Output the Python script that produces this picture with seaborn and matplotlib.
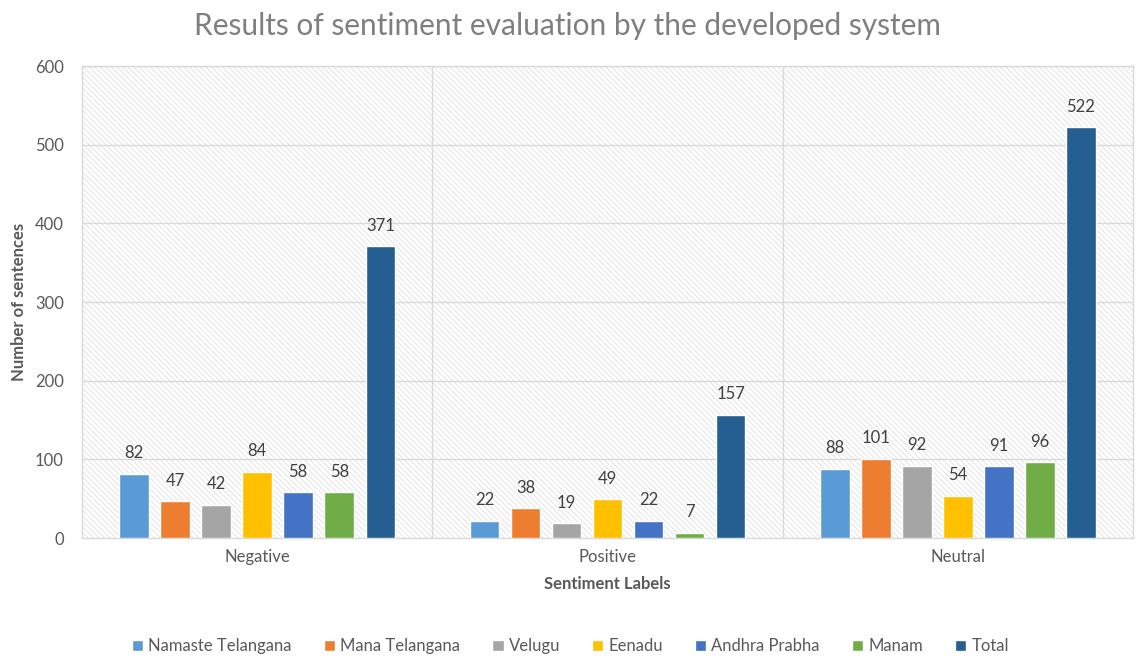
import matplotlib
matplotlib.use("Agg")
import matplotlib.pyplot as plt
from matplotlib.patches import Rectangle
import seaborn as sns
import pandas as pd

categories = ["Negative", "Positive", "Neutral"]
series = ["Namaste Telangana", "Mana Telangana", "Velugu", "Eenadu", "Andhra Prabha", "Manam", "Total"]
namaste_telangana = [82, 22, 88]
mana_telangana = [47, 38, 101]
velugu = [42, 19, 92]
eenadu = [84, 49, 54]
andhra_prabha = [58, 22, 91]
manam = [58, 7, 96]
total = [371, 157, 522]
colors = ["#5B9BD5", "#ED7D31", "#A5A5A5", "#FFC000", "#4472C4", "#70AD47", "#255E91"]
yticks = [0, 100, 200, 300, 400, 500, 600]

values = [namaste_telangana, mana_telangana, velugu, eenadu, andhra_prabha, manam, total]
rows = []
for s, vals in zip(series, values):
    for c, v in zip(categories, vals):
        rows.append({"Sentiment": c, "Source": s, "Count": v})
df = pd.DataFrame(rows)

sns.set_style("white")
plt.rcParams["font.family"] = ["Lato", "DejaVu Sans"]
plt.rcParams["hatch.linewidth"] = 0.5

fig = plt.figure(figsize=(11.36, 6.59), dpi=100)
ax = fig.add_axes([0.0722, 0.1836, 0.9252, 0.7162])

# hatched background
bg = Rectangle((0, 0), 1, 1, transform=ax.transAxes, facecolor="white",
               edgecolor="#DADADA", hatch="\\" * 6, linewidth=0, zorder=0)
ax.add_patch(bg)

sns.barplot(data=df, x="Sentiment", y="Count", hue="Source", order=categories,
            hue_order=series, palette=colors, width=0.82, gap=0.28,
            ax=ax, legend=True, saturation=1, zorder=3)

for cont in ax.containers:
    ax.bar_label(cont, padding=9, fontsize=12, color="#404040")

ax.set_ylim(0, 600)
ax.set_xlim(-0.5, 2.5)
ax.set_yticks(yticks)
ax.set_yticklabels([str(t) for t in yticks])
ax.tick_params(axis="both", length=0, labelsize=12, labelcolor="#595959")
ax.tick_params(axis="y", pad=13)
ax.tick_params(axis="x", pad=8)
for t in yticks[1:]:
    ax.axhline(t, color="#D9D9D9", lw=1, zorder=1)
for xb in [0.5, 1.5]:
    ax.axvline(xb, color="#D9D9D9", lw=1, zorder=1)
for sp in ax.spines.values():
    sp.set_color("#D9D9D9")
    sp.set_linewidth(1)

ax.set_xlabel("Sentiment Labels", fontsize=12, fontweight="bold", color="#595959", labelpad=8)
ax.set_ylabel("Number of sentences", fontsize=12, fontweight="bold", color="#595959", labelpad=6)

fig.suptitle("Results of sentiment evaluation by the developed system", fontsize=21.5,
             color="#7F7F7F", y=0.982)

handles, labels = ax.get_legend_handles_labels()
ax.get_legend().remove()
fig.legend(handles, labels, loc="center", bbox_to_anchor=(0.502, 0.019), ncol=7, frameon=False,
           fontsize=12, handlelength=0.7, handleheight=0.7, handletextpad=0.3,
           columnspacing=1.9, labelcolor="#595959")

fig.savefig("out.png", dpi=100)
